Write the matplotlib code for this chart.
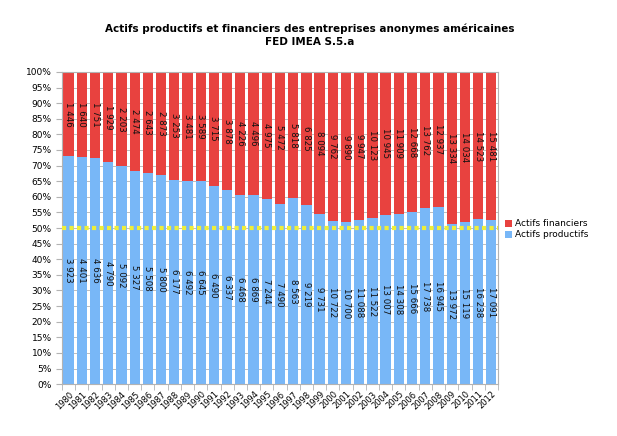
import matplotlib.pyplot as plt
import numpy as np
from matplotlib.ticker import FixedLocator, PercentFormatter

years = [str(y) for y in range(1980, 2013)]
productifs = [3923, 4401, 4636, 4790, 5092, 5327, 5508, 5800, 6177, 6492, 6645,
              6490, 6337, 6468, 6869, 7244, 7490, 8563, 9219, 9731, 10722, 10700,
              11088, 11522, 13007, 14308, 15666, 17738, 16945, 13972, 15119, 16238, 17091]
financiers = [1446, 1640, 1751, 1929, 2203, 2474, 2643, 2873, 3253, 3481, 3589,
              3715, 3878, 4226, 4496, 4975, 5472, 5818, 6825, 8094, 9762, 9890,
              9947, 10123, 10945, 11909, 12668, 13762, 12937, 13334, 14034, 14523, 15481]

RED = "#E8423F"
BLUE = "#78B7F7"


def fmt(v: int) -> str:
    return f"{v:,}".replace(",", " ")


def main() -> None:
    prod = np.array(productifs, dtype=float)
    fin = np.array(financiers, dtype=float)
    total = prod + fin
    p_share = prod / total * 100
    f_share = fin / total * 100
    x = np.arange(len(years))

    fig = plt.figure(figsize=(6.17, 4.36), dpi=100)
    ax = fig.add_axes([0.1005, 0.119, 0.7065, 0.716])

    ax.bar(x, p_share, width=0.78, color=BLUE, zorder=2, label="Actifs productifs")
    ax.bar(x, f_share, width=0.78, bottom=p_share, color=RED, zorder=2, label="Actifs financiers")

    for i in range(len(years)):
        ax.text(x[i], p_share[i] / 2, fmt(productifs[i]), rotation=270, ha="center", va="center",
                fontsize=6.2, color="#111111", zorder=4)
        ax.text(x[i], p_share[i] + f_share[i] / 2, fmt(financiers[i]), rotation=270, ha="center",
                va="center", fontsize=6.2, color="#111111", zorder=4)

    ax.axhline(50, color="#EEEE3A", linestyle=(0, (1.0, 0.8)), linewidth=3,
               dash_capstyle="butt", zorder=3)

    ax.set_xlim(-0.5, len(years) - 0.5)
    ax.set_ylim(0, 100)
    ax.yaxis.set_major_locator(FixedLocator(np.arange(0, 101, 5)))
    ax.yaxis.set_major_formatter(PercentFormatter(decimals=0))
    ax.grid(axis="y", color="#b3b3b3", linewidth=0.6, zorder=0)

    ax.set_xticks(x)
    ax.set_xticklabels(years, rotation=45, ha="right", rotation_mode="anchor", fontsize=6)
    ax.set_xticks(np.arange(-0.5, len(years)), minor=True)
    ax.tick_params(axis="x", which="major", length=0, pad=4)
    ax.tick_params(axis="x", which="minor", length=4, color="#b3b3b3")
    ax.tick_params(axis="y", labelsize=6.5, length=4, color="#b3b3b3")
    for side in ["top", "right", "left", "bottom"]:
        ax.spines[side].set_color("#b3b3b3")

    fig.suptitle("Actifs productifs et financiers des entreprises anonymes américaines\nFED IMEA S.5.a",
                 x=0.502, y=0.945, fontsize=7.5, fontweight="bold", linespacing=1.3)

    handles, labels = ax.get_legend_handles_labels()
    fig.legend(handles[::-1], labels[::-1], loc="upper left", bbox_to_anchor=(0.812, 0.505),
               frameon=False, fontsize=6.5, handlelength=0.8, handleheight=0.8,
               handletextpad=0.3, labelspacing=0.2, borderaxespad=0)

    fig.savefig("out.png", dpi=100)
    plt.close(fig)


if __name__ == "__main__":
    main()
